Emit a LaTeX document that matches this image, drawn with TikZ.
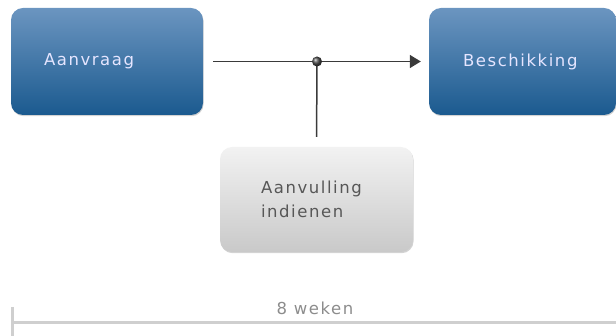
\documentclass[tikz,border=0pt]{standalone}
\usepackage{fontspec}
\setmainfont{DejaVu Sans}
\newfontfamily\boxfont{DejaVu Sans}[LetterSpace=9.5]
\usetikzlibrary{arrows.meta,shadows}
\definecolor{blueTop}{HTML}{6B95C0}
\definecolor{blueBottom}{HTML}{1B5A8F}
\definecolor{greyTop}{HTML}{F2F2F2}
\definecolor{greyBottom}{HTML}{C9C9C9}
\definecolor{lineDark}{HTML}{3A3A3A}
\definecolor{timeLine}{HTML}{CFCFCF}
\begin{document}
\begin{tikzpicture}
[x=1pt,y=-1pt,
  stepdecorate/.style={shape=rectangle,rounded corners=12pt,inner ysep=0pt,
    align=left,font=\boxfont\fontsize{16.5}{23.5}\selectfont,
    drop shadow={shadow xshift=0.6pt,shadow yshift=-1.2pt,opacity=0.35}},%
  bluedecorate/.style={stepdecorate,top color=blueTop,bottom color=blueBottom,
    text=white!90!blue},%
  greydecorate/.style={stepdecorate,top color=greyTop,bottom color=greyBottom,
    text=black!66},%
  linedecorate/.style={draw=lineDark,line width=1.5pt}]
\useasboundingbox (0,0) rectangle (616,336);
%% boxes
\foreach \nodename/\x/\y/\w/\h/\pad/\look/\txt in {
  aanvraag/107/61.5/192/107/33/bluedecorate/Aanvraag,
  beschikking/522.5/61.5/187/107/34/bluedecorate/Beschikking,
  aanvulling/316.5/199.5/193/105/41/greydecorate/{Aanvulling\\indienen}}
{
  \node (\nodename) at (\x,\y) [\look,minimum height=\h pt,inner xsep=\pad pt,
    text width=\w pt-2*\pad pt] {\txt};
}
%% connectors
\node (split) at (317,61.5) [circle,inner sep=0pt,minimum size=10pt] {};
\path
  (aanvraag.east) edge[linedecorate,shorten <=10pt] (split.center)
  (split.center) edge[linedecorate,-{Triangle[length=11pt,width=13pt]},shorten >=8pt] (beschikking.west)
  (split.center) edge[linedecorate,shorten >=10pt] (aanvulling.north);
%% junction dot on top
\shade[ball color=black!70] (split) circle (5pt);
%% time line
\coordinate (tltop) at (12.5,307);
\coordinate (tlbottom) at (12.5,336);
\coordinate (tlstart) at (12.5,323);
\coordinate (tlend) at (616,323);
\draw[timeLine,line width=3pt] (tltop) -- (tlbottom);
\draw[timeLine,line width=3pt] (tlstart) -- (tlend);
\node (weken) at (315,308) [font=\boxfont\fontsize{16.5}{18}\selectfont,text=black!45] {8 weken};
\end{tikzpicture}
\end{document}
